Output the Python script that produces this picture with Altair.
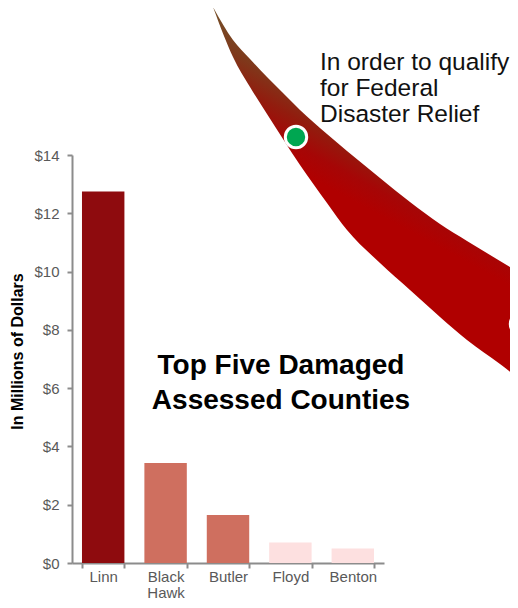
import altair as alt
import pandas as pd

# ---- data ----
counties = ["Linn", "Black Hawk", "Butler", "Floyd", "Benton"]
damage = [12.75, 3.43, 1.65, 0.70, 0.50]
bar_colors = ["#8E0B0E", "#CF6F5F", "#CF6F5F", "#FDE0E0", "#FDE0E0"]
y_ticks = [0, 2, 4, 6, 8, 10, 12, 14]

# decorative swoosh, in page-pixel units
swoosh_x = [213, 233, 250, 267, 283, 300, 327, 347, 380, 410, 440, 467, 500, 518]
swoosh_top = [7, 40, 59, 77, 93, 110, 134, 151, 178, 202, 224, 241, 261, 272]
swoosh_bottom = [7, 57, 87, 114, 139, 165, 203, 230, 263, 290, 317, 340, 364, 378]
dot_x = [296, 521]
dot_y = [137, 324]
dot_names = ["a", "b"]
dot_colors = ["#00A651", "#92D050"]

title_lines = ["Top Five Damaged", "Assessed Counties"]
note_lines = ["In order to qualify", "for Federal", "Disaster Relief"]

W, H = 312, 408
PL, PT = 72, 155
SVG_W, SVG_H = 502, 592
FONT = "Liberation Sans"

bars_df = pd.DataFrame({"County": counties, "Damage": damage})
sw_df = pd.DataFrame({"x": swoosh_x, "top": swoosh_top, "bottom": swoosh_bottom})
dot_df = pd.DataFrame({"x": dot_x, "y": dot_y, "k": dot_names})

px_x = alt.Scale(domain=[PL, PL + W], zero=False, nice=False)
px_y = alt.Scale(domain=[PT, PT + H], zero=False, nice=False, reverse=True)

grad = alt.LinearGradient(
    gradient="linear",
    stops=[
        alt.GradientStop(color="#74522A", offset=0.16),
        alt.GradientStop(color="#7E3A1C", offset=0.25),
        alt.GradientStop(color="#921C0E", offset=0.33),
        alt.GradientStop(color="#A60606", offset=0.40),
        alt.GradientStop(color="#B00000", offset=0.46),
        alt.GradientStop(color="#B00000", offset=1),
    ],
    x1=0.4, y1=0, x2=0, y2=0.9,
)

swoosh = alt.Chart(sw_df).mark_area(color=grad, interpolate="monotone").encode(
    x=alt.X("x:Q", scale=px_x, axis=None),
    y=alt.Y("top:Q", scale=px_y, axis=None),
    y2="bottom:Q",
)

dots = alt.Chart(dot_df).mark_point(
    filled=True, size=460, opacity=1, stroke="white", strokeWidth=3, strokeOpacity=1
).encode(
    x=alt.X("x:Q", scale=px_x, axis=None),
    y=alt.Y("y:Q", scale=px_y, axis=None),
    fill=alt.Fill("k:N", scale=alt.Scale(domain=dot_names, range=dot_colors), legend=None),
)

bars = alt.Chart(bars_df).mark_bar().encode(
    x=alt.X(
        "County:N",
        sort=counties,
        scale=alt.Scale(paddingInner=0.32, paddingOuter=0.16),
        axis=alt.Axis(
            title=None,
            labelAngle=0,
            labelFontSize=15,
            labelColor="#595959",
            labelFont=FONT,
            labelPadding=1,
            labelLineHeight=16,
            labelExpr="datum.label == 'Black Hawk' ? ['Black', 'Hawk'] : datum.label",
            tickBand="extent",
            tickSize=5,
            tickWidth=2,
            tickColor="#8C8C8C",
            domainColor="#8C8C8C",
            domainWidth=2,
        ),
    ),
    y=alt.Y(
        "Damage:Q",
        scale=alt.Scale(domain=[0, 14], nice=False),
        axis=alt.Axis(
            title="In Millions of Dollars",
            titleFont=FONT,
            titleFontSize=16,
            titleFontWeight="bold",
            titleColor="#000000",
            titlePadding=8,
            titleY=196,
            values=y_ticks,
            labelExpr="'$' + datum.value",
            labelFontSize=15,
            labelColor="#595959",
            labelFont=FONT,
            labelPadding=8,
            tickSize=5,
            tickWidth=2,
            tickColor="#8C8C8C",
            domainColor="#8C8C8C",
            domainWidth=2,
            grid=False,
        ),
    ),
    color=alt.Color("County:N", scale=alt.Scale(domain=counties, range=bar_colors), legend=None),
)

title_txt = alt.Chart().mark_text(
    text=title_lines, font=FONT, fontSize=28, fontWeight="bold", color="#000000",
    align="center", baseline="middle", lineHeight=35,
).encode(x=alt.value(281 - PL), y=alt.value(366 - PT))

note_txt = alt.Chart().mark_text(
    text=note_lines, font=FONT, fontSize=24.5, color="#111111",
    align="left", baseline="alphabetic", lineHeight=26,
).encode(x=alt.value(320 - PL), y=alt.value(70 - PT))

chart = alt.layer(swoosh, dots, bars, title_txt, note_txt).resolve_scale(
    x="independent", y="independent", color="independent", fill="independent"
).properties(
    width=W, height=H,
    autosize=alt.AutoSizeParams(type="none"),
    padding={"left": PL - 8, "top": PT - 8,
             "right": SVG_W - (PL - 8) - W, "bottom": SVG_H - (PT - 8) - H},
).configure_view(stroke=None)

chart.save("out.html", embed_options={"renderer": "svg", "actions": False})
